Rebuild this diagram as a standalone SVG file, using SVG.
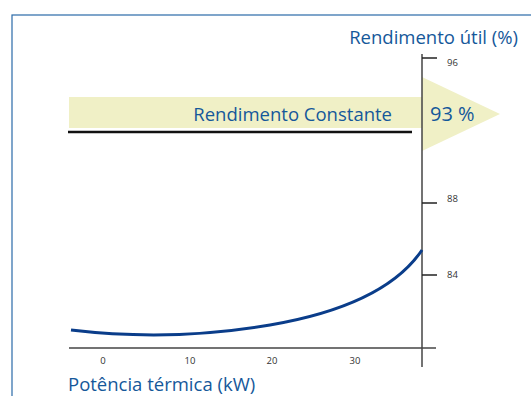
<svg xmlns="http://www.w3.org/2000/svg" width="531" height="396" viewBox="0 0 531 396">
<style>
.t{font-family:"Open Sans","Noto Sans","DejaVu Sans",sans-serif;fill:#15589a}
.s{font-family:"Open Sans","Noto Sans","DejaVu Sans",sans-serif;fill:#333;font-size:9.5px}
.ax{stroke:#444;stroke-width:1.5;fill:none}
.tk{stroke:#222;stroke-width:1.5}
</style>
<rect x="12" y="15" width="560" height="420" fill="#fff" stroke="#2a6aa8" stroke-width="1.2"/>
<g id="band">
<rect x="69" y="97" width="353" height="31" fill="#f0f0c6"/>
<polygon points="422,77 500,114 422,151" fill="#f0f0c6"/>
<line x1="68" y1="132" x2="412" y2="132" stroke="#111" stroke-width="2.5"/>
<text class="t" x="392" y="121" font-size="18.5" text-anchor="end">Rendimento Constante</text>
<text class="t" x="430" y="121" font-size="20">93 %</text>
</g>
<g id="axes">
<line class="ax" x1="422" y1="54" x2="422" y2="367"/>
<line class="ax" x1="69" y1="348" x2="436" y2="348"/>
<line class="tk" x1="422" y1="58" x2="437" y2="58"/>
<line class="tk" x1="422" y1="203" x2="437" y2="203"/>
<line class="tk" x1="422" y1="275" x2="437" y2="275"/>
<text class="s" x="447" y="66">96</text>
<text class="s" x="447" y="202">88</text>
<text class="s" x="447" y="278">84</text>
<text class="s" x="103" y="364" text-anchor="middle">0</text>
<text class="s" x="190" y="364" text-anchor="middle">10</text>
<text class="s" x="272" y="364" text-anchor="middle">20</text>
<text class="s" x="355" y="364" text-anchor="middle">30</text>
<text class="t" x="518" y="44" font-size="18.5" text-anchor="end">Rendimento útil (%)</text>
<text class="t" x="68" y="391" font-size="18.5">Potência térmica (kW)</text>
</g>
<g id="curve">
<path d="M71,330 C130,337 200,337 270,325 C340,313 395,290 422,250" fill="none" stroke="#0a3d8a" stroke-width="3"/>
</g>
</svg>
